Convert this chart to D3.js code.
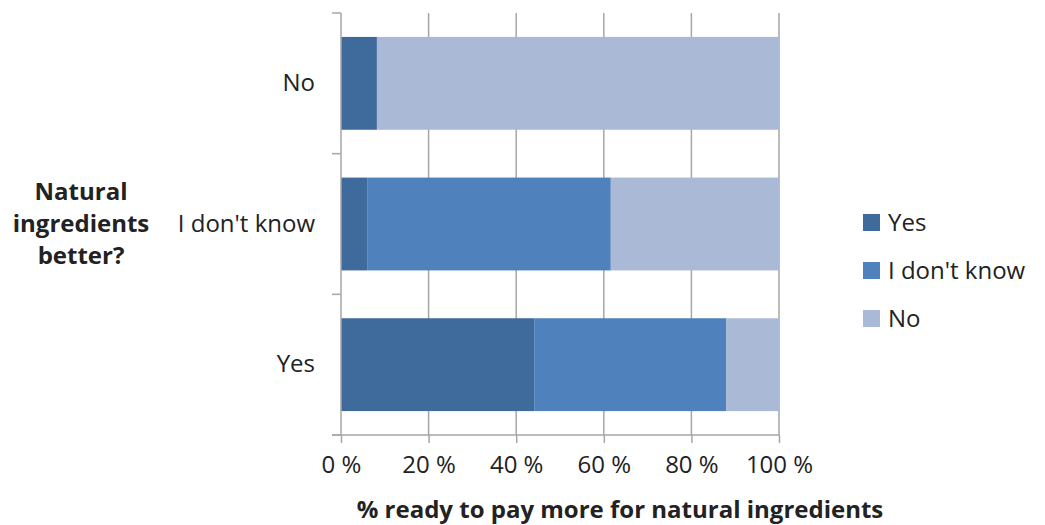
<!DOCTYPE html>
<html>
<head>
    <title>Natural ingredients</title>
    <style>
        html, body {
            margin: 0;
            padding: 0;
            background-color: #fff;
        }
        svg text {
            font-family: 'Open Sans', 'Noto Sans', sans-serif;
            fill: #222;
        }
        .grid line {
            stroke: #a6a6a6;
            stroke-width: 1.5;
        }
    </style>
</head>
<body>
    <div id="chart"></div>
    <script src="https://cdnjs.cloudflare.com/ajax/libs/d3/7.8.5/d3.min.js"></script>
    <script>
        // answers to "Natural ingredients better?" (top to bottom)
        const categories = ["No", "I don't know", "Yes"];
        // ready to pay more, in %
        const seriesNames = ["Yes", "I don't know", "No"];
        const yesValues = [8.2, 6.1, 44.1];
        const dontKnowValues = [0, 55.5, 43.9];
        const noValues = [91.8, 38.4, 12.0];
        const xTicks = [0, 20, 40, 60, 80, 100];
        const colors = ["#3f6a9c", "#4f81bd", "#aab9d6"];

        const width = 1045, height = 525;
        const margin = { left: 341, right: 266, top: 13, bottom: 90 };
        const innerW = width - margin.left - margin.right;
        const innerH = height - margin.top - margin.bottom;

        const rows = categories.map((c, i) => ({
            cat: c,
            "Yes": yesValues[i],
            "I don't know": dontKnowValues[i],
            "No": noValues[i]
        }));
        const stacked = d3.stack().keys(seriesNames)(rows);

        const svg = d3.select("#chart").append("svg")
            .attr("width", width)
            .attr("height", height);

        const g = svg.append("g")
            .attr("transform", `translate(${margin.left},${margin.top})`);

        const x = d3.scaleLinear().domain([0, 100]).range([0, innerW]);
        const y = d3.scaleBand().domain(categories).range([0, innerH])
            .paddingInner(0.34).paddingOuter(0.17);

        // vertical gridlines
        g.append("g").attr("class", "grid")
            .selectAll("line")
            .data(xTicks.slice(1))
            .enter().append("line")
            .attr("x1", d => x(d)).attr("x2", d => x(d))
            .attr("y1", 0).attr("y2", innerH);

        // bars
        g.selectAll(".series")
            .data(stacked)
            .enter().append("g")
            .attr("fill", (d, i) => colors[i])
            .selectAll("rect")
            .data(d => d)
            .enter().append("rect")
            .attr("x", d => x(d[0]))
            .attr("width", d => x(d[1]) - x(d[0]))
            .attr("y", d => y(d.data.cat))
            .attr("height", y.bandwidth());

        // x axis
        const xAxis = g.append("g")
            .attr("transform", `translate(0,${innerH})`)
            .call(d3.axisBottom(x).tickValues(xTicks).tickSize(8).tickPadding(13)
                .tickFormat(d => d + " %"));
        xAxis.select(".domain").attr("d", `M-9,0H${innerW}`);

        // y axis: category boundaries get the ticks
        const yAxis = g.append("g")
            .call(d3.axisLeft(y).tickSize(0).tickPadding(26));
        yAxis.select(".domain").attr("d", `M0,0V${innerH}`);
        const step = innerH / categories.length;
        yAxis.selectAll(".bound")
            .data(d3.range(categories.length + 1))
            .enter().append("line")
            .attr("class", "bound")
            .attr("x1", -9).attr("x2", 0)
            .attr("y1", d => d * step).attr("y2", d => d * step);

        svg.selectAll(".domain, .tick line, .bound")
            .attr("stroke", "#a6a6a6")
            .attr("stroke-width", 1.5);
        svg.selectAll(".tick text")
            .attr("font-size", 24)
            .attr("fill", "#222");

        // y title
        svg.append("text")
            .attr("text-anchor", "middle")
            .attr("font-size", 24)
            .attr("font-weight", "bold")
            .selectAll("tspan")
            .data(["Natural", "ingredients", "better?"])
            .enter().append("tspan")
            .attr("x", 81)
            .attr("y", (d, i) => 200 + i * 32)
            .text(d => d);

        // x title
        svg.append("text")
            .attr("x", 620)
            .attr("y", 518)
            .attr("text-anchor", "middle")
            .attr("font-size", 24)
            .attr("font-weight", "bold")
            .text("% ready to pay more for natural ingredients");

        // legend
        const legend = svg.append("g")
            .attr("transform", "translate(863,214)");
        const item = legend.selectAll("g")
            .data(seriesNames)
            .enter().append("g")
            .attr("transform", (d, i) => `translate(0,${i * 48})`);
        item.append("rect")
            .attr("width", 17).attr("height", 17)
            .attr("fill", (d, i) => colors[i]);
        item.append("text")
            .attr("x", 25).attr("y", 17)
            .attr("font-size", 24)
            .text(d => d);
    </script>
</body>
</html>
